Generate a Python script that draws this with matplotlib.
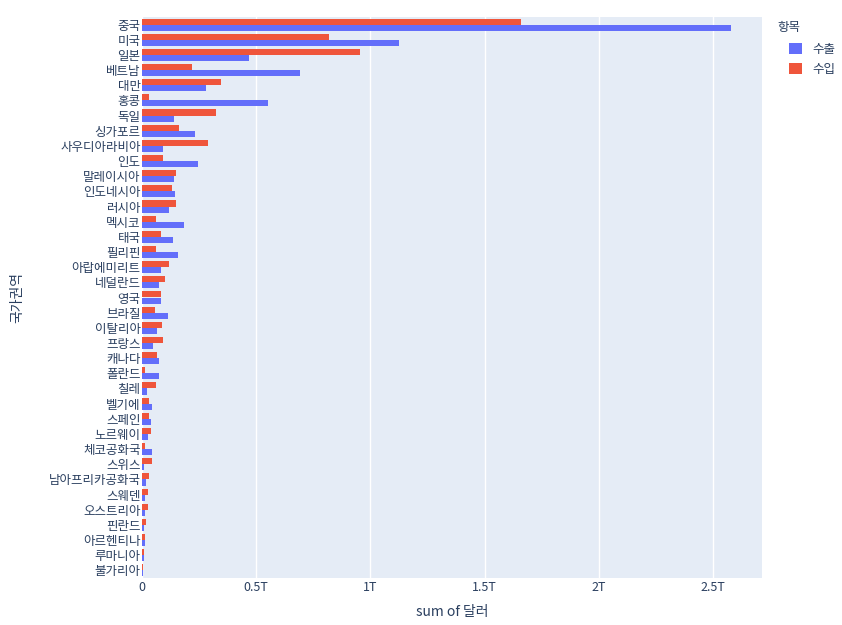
import numpy as np
import matplotlib

matplotlib.use("Agg")
import matplotlib.pyplot as plt
from matplotlib.ticker import FuncFormatter
from matplotlib.patches import Patch

plt.rcParams["font.family"] = ["Noto Sans CJK KR", "DejaVu Sans"]

countries = [
    "중국", "미국", "일본", "베트남", "대만", "홍콩", "독일", "싱가포르", "사우디아라비아",
    "인도", "말레이시아", "인도네시아", "러시아", "멕시코", "태국", "필리핀", "아랍에미리트",
    "네덜란드", "영국", "브라질", "이탈리아", "프랑스", "캐나다", "폴란드", "칠레", "벨기에",
    "스페인", "노르웨이", "체코공화국", "스위스", "남아프리카공화국", "스웨덴", "오스트리아",
    "핀란드", "아르헨티나", "루마니아", "불가리아",
]

# trillions of dollars
export_t = [
    2.58, 1.125, 0.467, 0.693, 0.281, 0.55, 0.141, 0.233, 0.09,
    0.244, 0.141, 0.144, 0.12, 0.184, 0.134, 0.158, 0.083,
    0.074, 0.085, 0.112, 0.064, 0.048, 0.074, 0.076, 0.023, 0.042,
    0.038, 0.025, 0.042, 0.009, 0.018, 0.015, 0.015,
    0.007, 0.013, 0.009, 0.004,
]
import_t = [
    1.66, 0.82, 0.955, 0.219, 0.346, 0.032, 0.325, 0.162, 0.287,
    0.09, 0.149, 0.13, 0.15, 0.061, 0.083, 0.06, 0.118,
    0.102, 0.085, 0.055, 0.089, 0.093, 0.066, 0.012, 0.06, 0.029,
    0.029, 0.039, 0.012, 0.045, 0.029, 0.028, 0.025,
    0.018, 0.012, 0.01, 0.006,
]

x_ticks = [0, 0.5e12, 1e12, 1.5e12, 2e12, 2.5e12]

BLUE = "#636EFA"
RED = "#EF553B"
TXT = "#2a3f5f"

exports = np.array(export_t) * 1e12
imports = np.array(import_t) * 1e12
pos = np.arange(len(countries))
h = 0.4

fig = plt.figure(figsize=(8.42, 6.25), dpi=100)
ax = fig.add_axes([142 / 842, 1 - 578 / 625, 620 / 842, 561 / 625])
ax.set_facecolor("#E5ECF6")

ax.barh(pos + h / 2, exports, height=h, color=BLUE, linewidth=0, zorder=2)
ax.barh(pos - h / 2, imports, height=h, color=RED, linewidth=0, zorder=2)

ax.set_ylim(len(countries) - 0.5, -0.5)
ax.set_xlim(0, 2.715e12)
ax.set_yticks(pos)
ax.set_yticklabels(countries)
ax.set_xticks(x_ticks)


def fmt(v, _):
    if v == 0:
        return "0"
    return f"{v / 1e12:g}T"


ax.xaxis.set_major_formatter(FuncFormatter(fmt))
ax.grid(axis="x", color="white", linewidth=1, zorder=1)
ax.set_axisbelow(True)
for s in ax.spines.values():
    s.set_visible(False)
ax.tick_params(axis="both", length=0, labelsize=9, labelcolor=TXT)
ax.tick_params(axis="y", pad=1)
ax.tick_params(axis="x", pad=2)

ax.xaxis.set_label_coords(0.5, -(612 - 578) / 561)
ax.set_xlabel("sum of 달러", fontsize=10, color=TXT, va="center")
ax.yaxis.set_label_coords(-(142 - 17) / 620, 0.5)
ax.set_ylabel("국가권역", fontsize=10, color=TXT, va="center")

# legend title drawn separately so the entries can be indented like plotly
fig.text(777 / 842, 1 - 28 / 625, "항목", fontsize=9, color=TXT, va="center", ha="left")
handles = [Patch(facecolor=BLUE, label="수출"), Patch(facecolor=RED, label="수입")]
leg = fig.legend(
    handles=handles,
    loc="upper left",
    bbox_to_anchor=(784 / 842, 1 - 38 / 625),
    frameon=False,
    fontsize=9,
    handlelength=1.0,
    handleheight=1.0,
    handletextpad=0.9,
    labelspacing=0.55,
    borderaxespad=0,
)
for t in leg.get_texts():
    t.set_color(TXT)

fig.savefig("out.png", dpi=100)
